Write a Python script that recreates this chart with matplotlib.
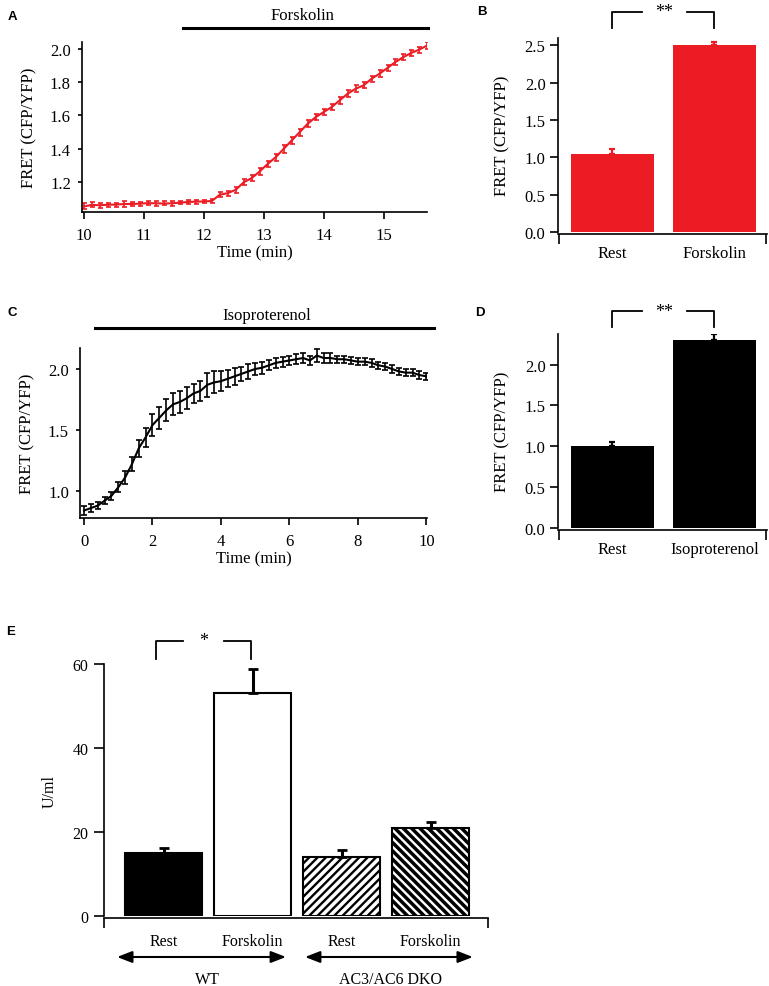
import numpy as np
import matplotlib.pyplot as plt

plt.rcParams['font.family'] = 'Liberation Serif'
plt.rcParams['font.size'] = 12
plt.rcParams['axes.linewidth'] = 1.2
plt.rcParams['hatch.linewidth'] = 1.8

RED = '#EC1C24'

# panel A: forskolin time course (8 s sampling)
a_t0, a_dt = 10.0, 8 / 60
a_val = [1.055, 1.065, 1.062, 1.066, 1.066, 1.070, 1.070, 1.072, 1.075, 1.074,
         1.073, 1.074, 1.078, 1.082, 1.084, 1.085, 1.088, 1.125, 1.135, 1.155,
         1.200, 1.225, 1.265, 1.310, 1.350, 1.400, 1.450, 1.500, 1.550, 1.590,
         1.620, 1.650, 1.690, 1.730, 1.760, 1.780, 1.820, 1.850, 1.885, 1.920,
         1.950, 1.975, 1.995, 2.020]
a_err = [0.018, 0.015, 0.016, 0.012, 0.012, 0.016, 0.014, 0.012, 0.012, 0.014,
         0.012, 0.014, 0.010, 0.010, 0.012, 0.010, 0.012, 0.015, 0.015, 0.018,
         0.018, 0.018, 0.020, 0.020, 0.020, 0.022, 0.022, 0.022, 0.020, 0.020,
         0.020, 0.020, 0.020, 0.020, 0.020, 0.018, 0.018, 0.020, 0.020, 0.018,
         0.018, 0.018, 0.018, 0.020]
a_drug = (11.65, 15.74)

# panel C: isoproterenol time course (12 s sampling)
c_t0, c_dt = 0.0, 0.2
c_val = [0.84, 0.86, 0.88, 0.92, 0.96, 1.03, 1.11, 1.22, 1.35, 1.44,
         1.54, 1.60, 1.66, 1.71, 1.73, 1.76, 1.80, 1.82, 1.87, 1.89,
         1.90, 1.92, 1.94, 1.96, 1.98, 2.00, 2.01, 2.03, 2.05, 2.06,
         2.07, 2.08, 2.09, 2.07, 2.11, 2.09, 2.09, 2.08, 2.08, 2.07,
         2.06, 2.06, 2.05, 2.03, 2.02, 2.00, 1.98, 1.97, 1.97, 1.95, 1.94]
c_err = [0.04, 0.03, 0.03, 0.03, 0.03, 0.04, 0.05, 0.06, 0.07, 0.08,
         0.09, 0.09, 0.09, 0.09, 0.09, 0.09, 0.08, 0.08, 0.10, 0.09,
         0.08, 0.07, 0.07, 0.06, 0.06, 0.05, 0.05, 0.04, 0.04, 0.04,
         0.04, 0.04, 0.04, 0.04, 0.05, 0.04, 0.04, 0.03, 0.03, 0.03,
         0.03, 0.03, 0.03, 0.03, 0.03, 0.03, 0.03, 0.03, 0.03, 0.03, 0.03]
c_drug = (0.32, 10.23)

# panels B and D
b_labels = ['Rest', 'Forskolin']
b_val = [1.05, 2.50]
b_err = [0.06, 0.05]
d_labels = ['Rest', 'Isoproterenol']
d_val = [1.00, 2.30]
d_err = [0.05, 0.07]

# panel E
e_labels = ['Rest', 'Forskolin', 'Rest', 'Forskolin']
e_val = [15.0, 53.0, 14.1, 20.9]
e_err = [1.2, 5.8, 1.7, 1.5]
e_groups = ['WT', 'AC3/AC6 DKO']

W, H = 769, 987
fig = plt.figure(figsize=(W / 100, H / 100), dpi=100)


def box(l, t, r, b):
    return [l / W, 1 - b / H, (r - l) / W, (b - t) / H]


def clean(ax):
    ax.spines['top'].set_visible(False)
    ax.spines['right'].set_visible(False)


def bracket(ax, x0, x1, ytop, ylow, g0, g1, star):
    ax.plot([x0, x0, g0], [ylow, ytop, ytop], color='black', lw=1.3, clip_on=False)
    ax.plot([g1, x1, x1], [ytop, ytop, ylow], color='black', lw=1.3, clip_on=False)
    ax.text((g0 + g1) / 2, ytop, star, ha='center', va='center', fontsize=13)


def time_panel(ax, t0, dt, val, err, color, cap):
    t = t0 + dt * np.arange(len(val))
    ax.errorbar(t, val, yerr=err, color=color, lw=1.5, elinewidth=1.2,
                capsize=cap, capthick=1.2)
    clean(ax)
    ax.tick_params(axis='y', direction='out', length=3, width=1.2, pad=5)
    ax.tick_params(axis='x', direction='out', length=5, width=1.2, pad=6)
    ax.set_ylabel('FRET (CFP/YFP)', labelpad=9)
    ax.set_xlabel('Time (min)', labelpad=1)


def bar_panel(ax, labels, val, err, color, xlim, ylim, yticks):
    x = np.arange(len(val))
    ax.bar(x, val, width=0.81, color=color, yerr=[[0] * len(err), err],
           error_kw=dict(ecolor=color, elinewidth=1.6, capsize=2.5, capthick=1.6))
    clean(ax)
    ax.set_xlim(*xlim)
    ax.set_ylim(*ylim)
    ax.set_yticks(yticks)
    ax.set_yticklabels([f'{v:.1f}' for v in yticks])
    ax.spines['bottom'].set_position(('outward', 1.5))
    ax.set_xticks(x)
    ax.set_xticklabels(labels)
    ax.set_xticks([xlim[0] + 0.005, xlim[1] - 0.005], minor=True)
    ax.tick_params(axis='x', which='major', length=0, pad=8)
    ax.tick_params(axis='x', which='minor', length=7, width=1.2, direction='out')
    ax.tick_params(axis='y', length=6, width=1.2, direction='out', pad=3)
    ax.set_ylabel('FRET (CFP/YFP)', labelpad=10)


# A
axA = fig.add_axes(box(82, 43, 427, 213))
time_panel(axA, a_t0, a_dt, a_val, a_err, RED, 1.8)
axA.set_xlim(9.967, 15.726)
axA.set_ylim(1.022, 2.04)
axA.set_yticks([1.2, 1.4, 1.6, 1.8, 2.0])
axA.set_yticklabels(['1.2', '1.4', '1.6', '1.8', '2.0'])
axA.set_xticks([10, 11, 12, 13, 14, 15])
axA.plot(a_drug, [2.126, 2.126], color='black', lw=2.2, clip_on=False)
axA.text(sum(a_drug) / 2 - 0.05, 2.204, 'Forskolin', ha='center', va='center')

# C
axC = fig.add_axes(box(80, 349, 427, 519))
time_panel(axC, c_t0, c_dt, c_val, c_err, 'black', 2.5)
axC.set_xlim(-0.117, 10.02)
axC.set_ylim(0.7787, 2.172)
axC.set_yticks([1.0, 1.5, 2.0])
axC.set_yticklabels(['1.0', '1.5', '2.0'])
axC.set_xticks([0, 2, 4, 6, 8, 10])
axC.plot(c_drug, [2.336, 2.336], color='black', lw=2.2, clip_on=False)
axC.text(5.34, 2.44, 'Isoproterenol', ha='center', va='center')

# B
axB = fig.add_axes(box(558, 39, 767, 233))
bar_panel(axB, b_labels, b_val, b_err, RED, (-0.534, 1.515), (0, 2.6),
          [0.0, 0.5, 1.0, 1.5, 2.0, 2.5])
bracket(axB, 0, 1, 2.95, 2.735, 0.289, 0.73, '**')

# D
axD = fig.add_axes(box(558, 335, 767, 529))
bar_panel(axD, d_labels, d_val, d_err, 'black', (-0.534, 1.515), (0, 2.375),
          [0.0, 0.5, 1.0, 1.5, 2.0])
bracket(axD, 0, 1, 2.656, 2.46, 0.289, 0.73, '**')

# E
axE = fig.add_axes(box(104, 665, 488, 917))
xe = np.arange(len(e_val))
faces = ['black', 'white', 'white', 'white']
hatches = [None, None, '////', '\\\\\\\\']
bars = axE.bar(xe, e_val, width=0.865, color=faces, edgecolor='black', lw=1.5,
               yerr=[[0] * len(e_err), e_err],
               error_kw=dict(ecolor='black', elinewidth=2.2, capsize=3.5, capthick=2))
for b, h in zip(bars, hatches):
    if h:
        b.set_hatch(h)
if hasattr(bars[3], 'set_hatch_linewidth'):
    bars[2].set_hatch_linewidth(1.7)
    bars[3].set_hatch_linewidth(2.5)
clean(axE)
xlimE = (-0.669, 3.646)
axE.set_xlim(*xlimE)
axE.set_ylim(0, 60)
axE.set_yticks([0, 20, 40, 60])
axE.spines['bottom'].set_position(('outward', 1.5))
axE.set_xticks(xe)
axE.set_xticklabels(e_labels, fontsize=11.5)
axE.set_xticks([xlimE[0] + 0.005, xlimE[1] - 0.005], minor=True)
axE.tick_params(axis='x', which='major', length=0, pad=11)
axE.tick_params(axis='x', which='minor', length=7, width=1.2, direction='out')
axE.tick_params(axis='y', length=7, width=1.2, direction='out', pad=4, labelsize=11.5)
axE.set_ylabel('U/ml', fontsize=11.5, labelpad=11)
bracket(axE, -0.084, 0.983, 65.5, 61.2, 0.219, 0.68, '*')
arrow = dict(arrowstyle='<|-|>,head_length=0.9,head_width=0.35', color='black',
             lw=1.5, mutation_scale=10, shrinkA=0, shrinkB=0)
axE.annotate('', xy=(1.376, -9.76), xytext=(-0.522, -9.76), arrowprops=arrow,
             annotation_clip=False)
axE.annotate('', xy=(3.476, -9.76), xytext=(1.59, -9.76), arrowprops=arrow,
             annotation_clip=False)
axE.text(0.489, -15, e_groups[0], ha='center', va='center', fontsize=11.5, clip_on=False)
axE.text(2.556, -15, e_groups[1], ha='center', va='center', fontsize=11.5, clip_on=False)

# panel letters
for letter, (px, py) in zip('ABCDE', [(12, 17), (482, 12), (12, 313), (480, 313), (11, 632)]):
    fig.text(px / W, 1 - py / H, letter, family='Liberation Sans', weight='bold',
             fontsize=9.5, ha='center', va='center')

fig.savefig('out.png', dpi=100)
